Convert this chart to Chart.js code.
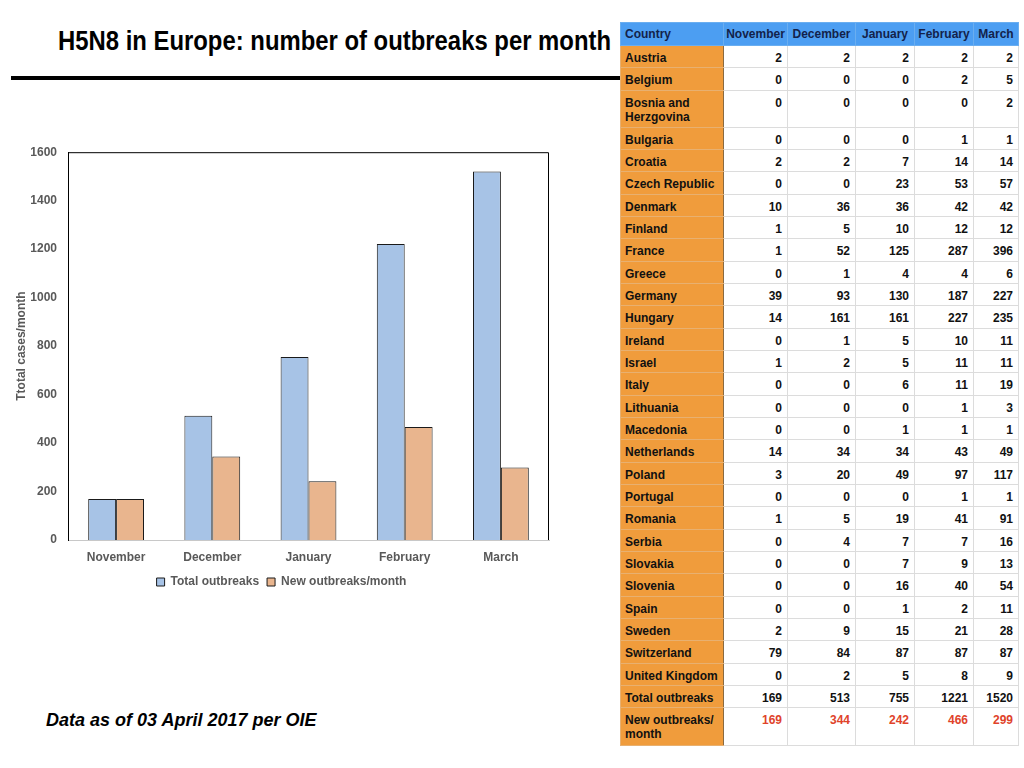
<!DOCTYPE html>
<html>
<head>
<meta charset="utf-8">
<script src="https://cdn.jsdelivr.net/npm/chart.js@4.4.1/dist/chart.umd.min.js"></script>
<style>
  html, body { margin: 0; padding: 0; background: #fff; }
  body { width: 1024px; height: 768px; position: relative; overflow: hidden; font-family: "Liberation Sans", Arial, sans-serif; }
  #title { position: absolute; left: 58px; top: 26px; font-family: "Liberation Sans", Arial, sans-serif; font-weight: bold; font-size: 27px; color: #000; white-space: nowrap; transform-origin: 0 0; }
  #rule { position: absolute; left: 11px; top: 76px; width: 611px; height: 4px; background: #000; }
  #chartBox { position: absolute; left: 0px; top: 134px; width: 560px; height: 464px; }
  #note { position: absolute; left: 46px; top: 710px; font-weight: bold; font-style: italic; font-size: 18px; color: #000; white-space: nowrap; }
  #tbl { position: absolute; left: 620px; top: 22px; border-collapse: collapse; table-layout: fixed; font-size: 12px; font-weight: bold; }
  #tbl td, #tbl th { padding: 0; border: 1px solid #dcdcdc; vertical-align: top; overflow: hidden; line-height: 14px; }
  #tbl th { background: #4c9ef2; color: #13224a; height: 22px; vertical-align: middle; text-align: center; border-color: #6aaef0; font-size: 12px; }
  #tbl th.c { text-align: left; padding-left: 4px; }
  #tbl td.c { background: #f09c3c; color: #111; text-align: left; padding: 5px 0 0 4px; border-color: #e8b070; border-right: 1px solid #8a6a40; }
  #tbl td.n { text-align: right; padding: 5px 5px 0 0; color: #111; }
  #tbl tr.last td.n { color: #e0432a; }
</style>
</head>
<body>
<div id="title">H5N8 in Europe: number of outbreaks per month</div>
<div id="rule"></div>
<div id="chartBox"><canvas id="c"></canvas></div>
<div id="note">Data as of 03 April 2017 per OIE</div>
<table id="tbl"></table>
<script>
// ---- Data ----
const months = ["November", "December", "January", "February", "March"];
const totalOutbreaks = [169, 513, 755, 1221, 1520];
const newOutbreaks = [169, 344, 242, 466, 299];
const yTicks = [0, 200, 400, 600, 800, 1000, 1200, 1400, 1600];

const countries = ["Austria", "Belgium", "Bosnia and Herzgovina", "Bulgaria", "Croatia", "Czech Republic", "Denmark", "Finland", "France", "Greece", "Germany", "Hungary", "Ireland", "Israel", "Italy", "Lithuania", "Macedonia", "Netherlands", "Poland", "Portugal", "Romania", "Serbia", "Slovakia", "Slovenia", "Spain", "Sweden", "Switzerland", "United Kingdom"];
const novValues = [2, 0, 0, 0, 2, 0, 10, 1, 1, 0, 39, 14, 0, 1, 0, 0, 0, 14, 3, 0, 1, 0, 0, 0, 0, 2, 79, 0];
const decValues = [2, 0, 0, 0, 2, 0, 36, 5, 52, 1, 93, 161, 1, 2, 0, 0, 0, 34, 20, 0, 5, 4, 0, 0, 0, 9, 84, 2];
const janValues = [2, 0, 0, 0, 7, 23, 36, 10, 125, 4, 130, 161, 5, 5, 6, 0, 1, 34, 49, 0, 19, 7, 7, 16, 1, 15, 87, 5];
const febValues = [2, 2, 0, 1, 14, 53, 42, 12, 287, 4, 187, 227, 10, 11, 11, 1, 1, 43, 97, 1, 41, 7, 9, 40, 2, 21, 87, 8];
const marValues = [2, 5, 2, 1, 14, 57, 42, 12, 396, 6, 227, 235, 11, 11, 19, 3, 1, 49, 117, 1, 91, 16, 13, 54, 11, 28, 87, 9];

// ---- Title fit (condensed look) ----
(function () {
  const t = document.getElementById('title');
  const w = t.getBoundingClientRect().width;
  t.style.transform = 'scaleX(' + (553 / w) + ')';
})();

// ---- Table ----
const colW = [103, 64, 68, 59, 59, 45];
const tbl = document.getElementById('tbl');
let html = '<colgroup>' + colW.map(w => '<col style="width:' + w + 'px">').join('') + '</colgroup>';
html += '<tr><th class="c">Country</th>' + months.map(m => '<th>' + m + '</th>').join('') + '</tr>';
const monthCols = [novValues, decValues, janValues, febValues, marValues];
const rowH = 22.34;
function row(label, vals, h, cls) {
  return '<tr class="' + (cls || '') + '" style="height:' + h + 'px"><td class="c">' + label + '</td>' +
    vals.map(v => '<td class="n">' + v + '</td>').join('') + '</tr>';
}
countries.forEach((c, i) => {
  const vals = monthCols.map(a => a[i]);
  const h = c === "Bosnia and Herzgovina" ? 37 : rowH;
  const label = c === "Bosnia and Herzgovina" ? "Bosnia and<br>Herzgovina" : c;
  html += row(label, vals, h);
});
html += row("Total outbreaks", totalOutbreaks, rowH);
html += row("New outbreaks/<br>month", newOutbreaks, 38, 'last');
tbl.innerHTML = html;

// ---- Chart ----
const frame = {
  id: 'frame',
  afterDraw(chart) {
    const a = chart.chartArea, ctx = chart.ctx;
    ctx.save();
    ctx.strokeStyle = '#000';
    ctx.lineWidth = 1;
    ctx.beginPath();
    ctx.moveTo(a.left, a.top + 0.5);
    ctx.lineTo(a.right - 0.5, a.top + 0.5);
    ctx.lineTo(a.right - 0.5, a.bottom);
    ctx.stroke();
    ctx.restore();
  }
};

const gray = '#595959';
const tickFont = { family: "'Liberation Sans', Arial, sans-serif", size: 12, weight: 'bold' };

new Chart(document.getElementById('c'), {
  type: 'bar',
  data: {
    labels: months,
    datasets: [
      { label: 'Total outbreaks', data: totalOutbreaks, backgroundColor: '#a7c3e6', borderColor: '#1a1a1a', borderWidth: 1, categoryPercentage: 0.58, barPercentage: 1 },
      { label: 'New outbreaks/month', data: newOutbreaks, backgroundColor: '#e9b58e', borderColor: '#1a1a1a', borderWidth: 1, categoryPercentage: 0.58, barPercentage: 1 }
    ]
  },
  options: {
    responsive: true,
    maintainAspectRatio: false,
    animation: false,
    layout: { padding: { left: 14, right: 11, top: 12, bottom: 0 } },
    plugins: {
      tooltip: { enabled: false },
      legend: {
        position: 'bottom',
        labels: { boxWidth: 8, boxHeight: 8, color: gray, font: tickFont, padding: 8 }
      }
    },
    scales: {
      x: {
        grid: { display: false, drawTicks: false },
        border: { display: true, color: '#c8c8c8', width: 1 },
        ticks: { color: gray, font: tickFont, padding: 10 },
        afterFit(s) { s.height = 28; }
      },
      y: {
        min: 0, max: 1600,
        afterBuildTicks(s) { s.ticks = yTicks.map(v => ({ value: v })); },
        grid: { display: false, drawTicks: false },
        border: { display: true, color: '#000', width: 1 },
        ticks: { color: gray, font: tickFont, padding: 11, callback: v => String(v) },
        title: { display: true, text: 'Ttotal cases/month', color: gray, font: tickFont, padding: { top: 0, bottom: 0 } },
        afterFit(s) { s.width = 54; }
      }
    }
  },
  plugins: [frame]
});
</script>
</body>
</html>
